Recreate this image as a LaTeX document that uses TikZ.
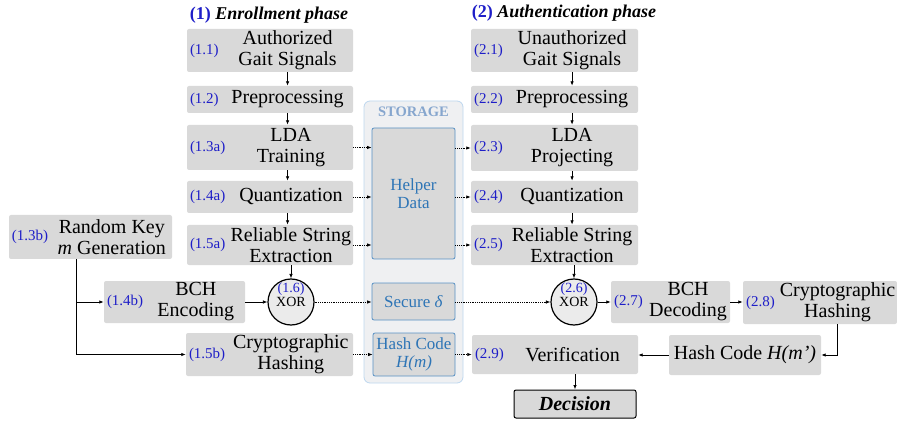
\documentclass[tikz,border=0pt]{standalone}
\usepackage{fontspec}
\setmainfont{Liberation Serif}
\usetikzlibrary{calc,arrows.meta}
\definecolor{boxgray}{HTML}{D9D9D9}
\definecolor{numblue}{RGB}{30,30,200}
\definecolor{storeblue}{HTML}{2E75B6}
\definecolor{storeline}{HTML}{BDD7EE}
\definecolor{storefill}{HTML}{EFF0F2}
\definecolor{storetitle}{HTML}{86A6CE}
\tikzset{
  gbox/.style={fill=boxgray, rounded corners=2pt, inner sep=0pt},
  num/.style={text=numblue, font=\fontsize{15}{16}\selectfont, inner xsep=3pt, inner ysep=0pt},
  txt/.style={font=\fontsize{20}{21}\selectfont, align=center, inner sep=0pt},
  hbox/.style={fill=boxgray, draw=storeblue!80, line width=0.8pt, rounded corners=2pt, text=storeblue, font=\fontsize{17}{18}\selectfont, align=center, inner sep=0pt},
  xor/.style={circle, draw, line width=1.2pt, fill=black!8, minimum size=46, inner sep=0pt},
  xortxt/.style={align=center, font=\fontsize{14}{14}\selectfont, inner sep=0pt},
  phase/.style={font=\bfseries\fontsize{18}{20}\selectfont, inner sep=0pt},
  arr/.style={-{Latex[length=4.5pt,width=3.5pt]}, line width=0.8pt},
  dotarr/.style={arr, densely dotted},
}
% box with blue step number on the left, text centred in the rest
\def\stagebox(#1)(#2,#3)(#4,#5)#6#7{%
  \node[gbox, minimum width={#4-#2}, minimum height={#5-#3}] (#1) at ({(#2+#4)/2},{(#3+#5)/2}) {};
  \node[num, anchor=west] (#1n) at (#1.west) {#6};
  \node[txt] (#1t) at ($(#1n.east)!0.5!(#1.east)$) {#7};
}

\begin{document}
\begin{tikzpicture}[x=1pt, y=-1pt]
  \useasboundingbox (0,0) rectangle (897,422);

  %%%%% PHASES %%%%%
  \node[phase] (ph1) at (269,15) {\textcolor{numblue}{(1)} \textit{Enrollment phase}};
  \node[phase] (ph2) at (564,13) {\textcolor{numblue}{(2)} \textit{Authentication phase}};

  %%%%% STORAGE %%%%%
  \node[fill=storefill, draw=storeline, line width=0.8pt, rounded corners=6pt, minimum width=99, minimum height=282] (st) at (413.5,242) {};
  \node[text=storetitle, font=\bfseries\fontsize{14.5}{16}\selectfont] (stt) at (413.5,112) {STORAGE};
  \node[hbox, minimum width=83, minimum height=131] (hd) at (413.5,193.5) {Helper\\Data};
  \node[hbox, minimum width=83, minimum height=37] (sd) at (413.5,301.5) {Secure \textit{δ}};
  \node[hbox, minimum width=82, minimum height=43] (hm) at (414,354.5) {Hash Code\\\textit{H(m)}};

  %%%%% ENROLLMENT %%%%%
  \stagebox(e1)(187,29)(353,72){(1.1)}{Authorized\\Gait Signals}
  \stagebox(e2)(187,86)(353,113){(1.2)}{Preprocessing}
  \stagebox(e3)(187,125)(353,170){(1.3a)}{LDA\\Training}
  \stagebox(e4)(187,181)(353,213){(1.4a)}{Quantization}
  \stagebox(e5)(187,225)(353,265){(1.5a)}{Reliable String\\Extraction}
  \stagebox(rk)(9,215)(172,259){(1.3b)}{Random Key\\\textit{m} Generation}
  \stagebox(be)(104,281)(245,323){(1.4b)}{BCH\\Encoding}
  \stagebox(ch1)(186,333)(353,376){(1.5b)}{Cryptographic\\Hashing}
  \node[xor] (x1) at (291,302) {};
  \node[xortxt] (x1t) at (291,295) {\textcolor{numblue}{(1.6)}\\XOR};

  %%%%% AUTHENTICATION %%%%%
  \stagebox(a1)(471,29)(638,72){(2.1)}{Unauthorized\\Gait Signals}
  \stagebox(a2)(471,86)(638,113){(2.2)}{Preprocessing}
  \stagebox(a3)(471,125)(638,171){(2.3)}{LDA\\Projecting}
  \stagebox(a4)(471,181)(638,213){(2.4)}{Quantization}
  \stagebox(a5)(471,225)(638,265){(2.5)}{Reliable String\\Extraction}
  \node[xor] (x2) at (574,302) {};
  \node[xortxt] (x2t) at (574,295) {\textcolor{numblue}{(2.6)}\\XOR};
  \stagebox(a7)(611,281)(730,323){(2.7)}{BCH\\Decoding}
  \stagebox(a8)(743,281)(897,324){(2.8)}{Cryptographic\\Hashing}
  \stagebox(a9)(472,335)(638,374){(2.9)}{Verification}
  \node[gbox, txt, minimum width=152, minimum height=40] (hc) at (745,355) {Hash Code \textit{H(m’)}};
  \node[gbox, txt, draw, line width=1pt, minimum width=122, minimum height=28, font=\bfseries\itshape\fontsize{20}{21}\selectfont] (dec) at (575,404) {Decision};

  %%%%% CONNECTORS %%%%%
  \draw[arr] (e1.south -| e1t) -- (e2.north -| e1t);
  \draw[arr] (e2.south -| e1t) -- (e3.north -| e1t);
  \draw[arr] (e3.south -| e1t) -- (e4.north -| e1t);
  \draw[arr] (e4.south -| e1t) -- (e5.north -| e1t);
  \draw[arr] (e5.south -| x1) -- (x1.north);
  \draw[arr] (a1.south -| a1t) -- (a2.north -| a1t);
  \draw[arr] (a2.south -| a1t) -- (a3.north -| a1t);
  \draw[arr] (a3.south -| a1t) -- (a4.north -| a1t);
  \draw[arr] (a4.south -| a1t) -- (a5.north -| a1t);
  \draw[arr] (a5.south -| x2) -- (x2.north);

  \coordinate (rkd) at ([xshift=-14.5pt]rk.south);
  \draw[arr] (rkd) |- (be.west);
  \draw[arr] (rkd) |- (ch1.west);
  \draw[arr] (be.east) -- (x1.west);

  \draw[dotarr] (e3.east) -- (e3.east -| hd.west);
  \draw[dotarr] (e4.east) -- (e4.east -| hd.west);
  \draw[dotarr] (e5.east) -- (e5.east -| hd.west);
  \draw[dotarr] (a3.west -| hd.east) -- (a3.west);
  \draw[dotarr] (a4.west -| hd.east) -- (a4.west);
  \draw[dotarr] (a5.west -| hd.east) -- (a5.west);
  \draw[dotarr] (x1.east) -- (x1.east -| sd.west);
  \draw[dotarr] (x2.west -| sd.east) -- (x2.west);
  \draw[dotarr] (ch1.east) -- (ch1.east -| hm.west);
  \draw[dotarr] (a9.west -| hm.east) -- (a9.west);

  \draw[arr] (x2.east) -- (x2.east -| a7.west);
  \draw[arr] (a7.east) -- (a7.east -| a8.west);
  \coordinate (a8d) at ([xshift=17pt]a8.south);
  \draw[arr] (a8d) |- (hc.east);
  \draw[arr] (hc.west) -- (hc.west -| a9.east);
  \draw[arr] (a9.south -| dec) -- (dec.north);
\end{tikzpicture}
\end{document}
